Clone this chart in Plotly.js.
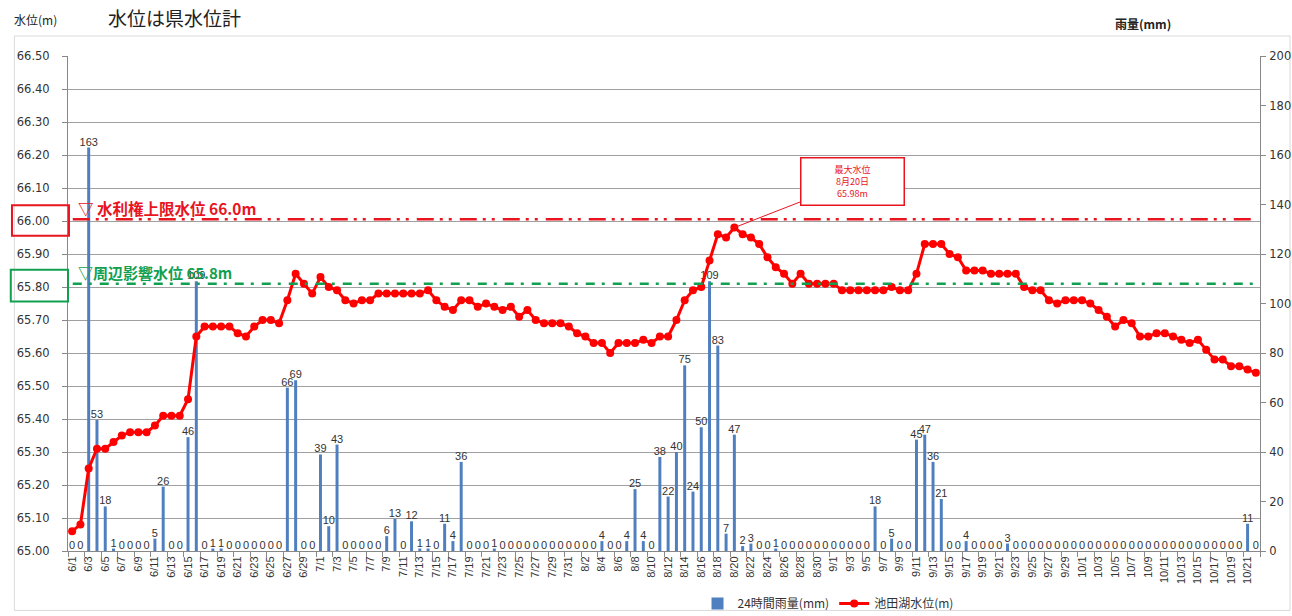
<!DOCTYPE html>
<html>
<head>
<meta charset="utf-8">
<script src="https://cdn.plot.ly/plotly-3.0.1.min.js"></script>
<style>
html,body{margin:0;padding:0;background:#fff;}
#chart{width:1292px;height:616px;}
</style>
</head>
<body>
<div id="chart"></div>
<script>
// Month / number of days shown (6/1 .. 10/22)
const monthSpans = [[6, 30], [7, 31], [8, 31], [9, 30], [10, 22]];
const dates = [];
monthSpans.forEach(([m, n]) => { for (let d = 1; d <= n; d++) dates.push(m + '/' + d); });

// 24-hour rainfall (mm)
const rain = [
  0, 0, 163, 53, 18, 1, 0, 0, 0, 0, 5, 26, 0, 0, 46, 109, 0, 1, 1, 0,
  0, 0, 0, 0, 0, 0, 66, 69, 0, 0,
  39, 10, 43, 0, 0, 0, 0, 0, 6, 13, 0, 12, 1, 1, 0, 11, 4, 36, 0, 0,
  0, 1, 0, 0, 0, 0, 0, 0, 0, 0, 0, 0, 0, 0,
  4, 0, 0, 4, 25, 4, 0, 38, 22, 40, 75, 24, 50, 109, 83, 7,
  47, 2, 3, 0, 0, 1, 0, 0, 0, 0, 0, 0, 0, 0, 0, 0, 0, 18, 0, 5,
  0, 0, 45, 47, 36, 21, 0, 0, 4, 0, 0, 0, 0, 3, 0, 0, 0, 0, 0, 0,
  0, 0, 0, 0, 0, 0, 0, 0, 0, 0, 0, 0, 0, 0, 0, 0, 0, 0, 0, 0,
  0, 0, 11, 0
];

// Lake Ikeda water level (m)
const level = [
  65.06, 65.08, 65.25, 65.31, 65.31, 65.33, 65.35, 65.36, 65.36, 65.36,
  65.38, 65.41, 65.41, 65.41, 65.46, 65.65, 65.68, 65.68, 65.68, 65.68,
  65.66, 65.65, 65.68, 65.70, 65.70, 65.69, 65.76, 65.84, 65.81, 65.78,
  65.83, 65.80, 65.79, 65.76, 65.75, 65.76, 65.76, 65.78, 65.78, 65.78,
  65.78, 65.78, 65.78, 65.79, 65.76, 65.74, 65.73, 65.76, 65.76, 65.74,
  65.75, 65.74, 65.73, 65.74, 65.71, 65.73, 65.70, 65.69, 65.69, 65.69,
  65.68, 65.66, 65.65, 65.63, 65.63, 65.60, 65.63, 65.63, 65.63, 65.64,
  65.63, 65.65, 65.65, 65.70, 65.76, 65.79, 65.80, 65.88, 65.96, 65.95,
  65.98, 65.96, 65.95, 65.93, 65.89, 65.86, 65.84, 65.81, 65.84, 65.81,
  65.81, 65.81, 65.81, 65.79, 65.79, 65.79, 65.79, 65.79, 65.79, 65.80,
  65.79, 65.79, 65.84, 65.93, 65.93, 65.93, 65.90, 65.89, 65.85, 65.85,
  65.85, 65.84, 65.84, 65.84, 65.84, 65.80, 65.79, 65.79, 65.76, 65.75,
  65.76, 65.76, 65.76, 65.75, 65.73, 65.71, 65.68, 65.70, 65.69, 65.65,
  65.65, 65.66, 65.66, 65.65, 65.64, 65.63, 65.64, 65.61, 65.58, 65.58,
  65.56, 65.56, 65.55, 65.54
];

// Reference levels as drawn
const refLevels = [66.005, 65.81];
const refLabels = ['▽ 水利権上限水位 66.0m', '▽周辺影響水位 65.8m'];
const refColors = ['#E8141E', '#10A050'];
const refDashes = ['17px,6px,3px,6px,3px,8px', '9px,7px,3px,8px'];

// Peak annotation
const peakDate = '8/20';
const peakValue = 65.98;
const peakText = '最大水位<br>8月20日<br>65.98m';

const numFont = 'Liberation Sans, Arial, Noto Sans CJK JP, sans-serif';
const axisFont = 'DejaVu Sans, Liberation Sans, sans-serif';
const jpFont = 'Noto Sans CJK JP, sans-serif';

const traces = [
  {
    type: 'bar', name: '24時間雨量(mm)', x: dates, y: rain,
    xaxis: 'x', yaxis: 'y',
    marker: {color: '#4F7FBF'},
    text: rain.map(String), textposition: 'outside', constraintext: 'none',
    textfont: {size: 11, color: '#333', family: numFont},
    cliponaxis: false, hoverinfo: 'x+y'
  },
  {
    type: 'scatter', mode: 'lines+markers', name: '池田湖水位(m)', x: dates, y: level,
    xaxis: 'x', yaxis: 'y2',
    line: {color: '#FF0000', width: 3},
    marker: {color: '#FF0000', size: 8}
  }
];

const shapes = [
  {type: 'rect', xref: 'paper', yref: 'paper', x0: -0.045, x1: 1.0252, y0: -0.12, y1: 1.0404,
   line: {color: '#D9D9D9', width: 1}, layer: 'below'},
  {type: 'rect', xref: 'paper', yref: 'y2', x0: -0.047, x1: 0.0008, y0: 65.955, y1: 66.048,
   line: {color: '#E8141E', width: 2}},
  {type: 'rect', xref: 'paper', yref: 'y2', x0: -0.048, x1: 0.0, y0: 65.756, y1: 65.852,
   line: {color: '#10A050', width: 2}}
];
refLevels.forEach((v, i) => {
  shapes.push({type: 'line', xref: 'paper', yref: 'y2', x0: 0.004, x1: 0.996, y0: v, y1: v,
    line: {color: refColors[i], width: 2.5, dash: refDashes[i]}, layer: 'above'});
});

const annotations = [
  {xref: 'paper', yref: 'paper', x: -0.047, y: 1.0747, xanchor: 'left', yanchor: 'middle',
   text: '水位(m)', showarrow: false, font: {size: 12, family: jpFont, color: '#222'}},
  {xref: 'paper', yref: 'paper', x: 0.8767, y: 1.0666, xanchor: 'left', yanchor: 'middle',
   text: '<b>雨量(mm)</b>', showarrow: false, font: {size: 12, family: jpFont, color: '#222'}},
  {xref: 'x', yref: 'y2', x: peakDate, y: peakValue, text: peakText, showarrow: true,
   arrowhead: 0, arrowcolor: '#E8141E', arrowwidth: 1, ax: 118, ay: -46,
   bordercolor: '#E8141E', borderwidth: 1.5, bgcolor: '#fff', width: 100, height: 44,
   font: {size: 9, color: '#E8141E', family: jpFont}}
];
const refFontSizes = [15.5, 15];
refLevels.forEach((v, i) => {
  annotations.push({xref: 'paper', yref: 'y2', x: 0.0067, y: v, yshift: 11, xanchor: 'left', yanchor: 'middle',
    text: '<b>' + refLabels[i] + '</b>', showarrow: false,
    font: {size: refFontSizes[i], color: refColors[i], family: jpFont}});
});

const layout = {
  width: 1292, height: 616,
  margin: {l: 68, r: 32, t: 56, b: 64.5, autoexpand: false},
  paper_bgcolor: '#fff', plot_bgcolor: '#fff',
  font: {family: numFont, color: '#333'},
  title: {text: '水位は県水位計', font: {size: 19, family: jpFont, color: '#222'},
          xref: 'container', yref: 'container', x: 108 / 1292, xanchor: 'left', y: 1 - 19 / 616, yanchor: 'middle',
          automargin: false},
  showlegend: true,
  legend: {orientation: 'h', x: 0.6376, xanchor: 'center', y: -0.106, yanchor: 'middle',
           font: {size: 12, family: jpFont, color: '#333'}, bgcolor: 'rgba(0,0,0,0)'},
  bargap: 0.64,
  xaxis: {
    type: 'category', range: [-0.5, dates.length - 0.5], automargin: false,
    tickmode: 'linear', tick0: 0, dtick: 2, tickangle: -90, tickson: 'boundaries',
    ticks: 'outside', ticklen: 5, tickcolor: '#888',
    showline: true, linecolor: '#888', linewidth: 1, showgrid: false,
    tickfont: {size: 11, family: numFont, color: '#333'}
  },
  yaxis: {
    side: 'right', range: [0, 200], dtick: 20, showgrid: false, zeroline: false, automargin: false,
    showline: true, linecolor: '#888', ticks: 'outside', ticklen: 5, tickcolor: '#888',
    ticklabelstandoff: 1,
    tickfont: {size: 11.5, family: axisFont, color: '#333'}
  },
  yaxis2: {
    overlaying: 'y', side: 'left', anchor: 'x', range: [65, 66.5], dtick: 0.1, tickformat: '.2f',
    showgrid: true, gridcolor: '#A0A0A0', gridwidth: 1, zeroline: false, automargin: false,
    showline: true, linecolor: '#888', ticks: 'outside', ticklen: 5, tickcolor: '#888',
    ticklabelstandoff: 10,
    tickfont: {size: 11.5, family: axisFont, color: '#333'}
  },
  shapes: shapes,
  annotations: annotations
};

Plotly.newPlot('chart', traces, layout, {displayModeBar: false, staticPlot: true});
</script>
</body>
</html>
